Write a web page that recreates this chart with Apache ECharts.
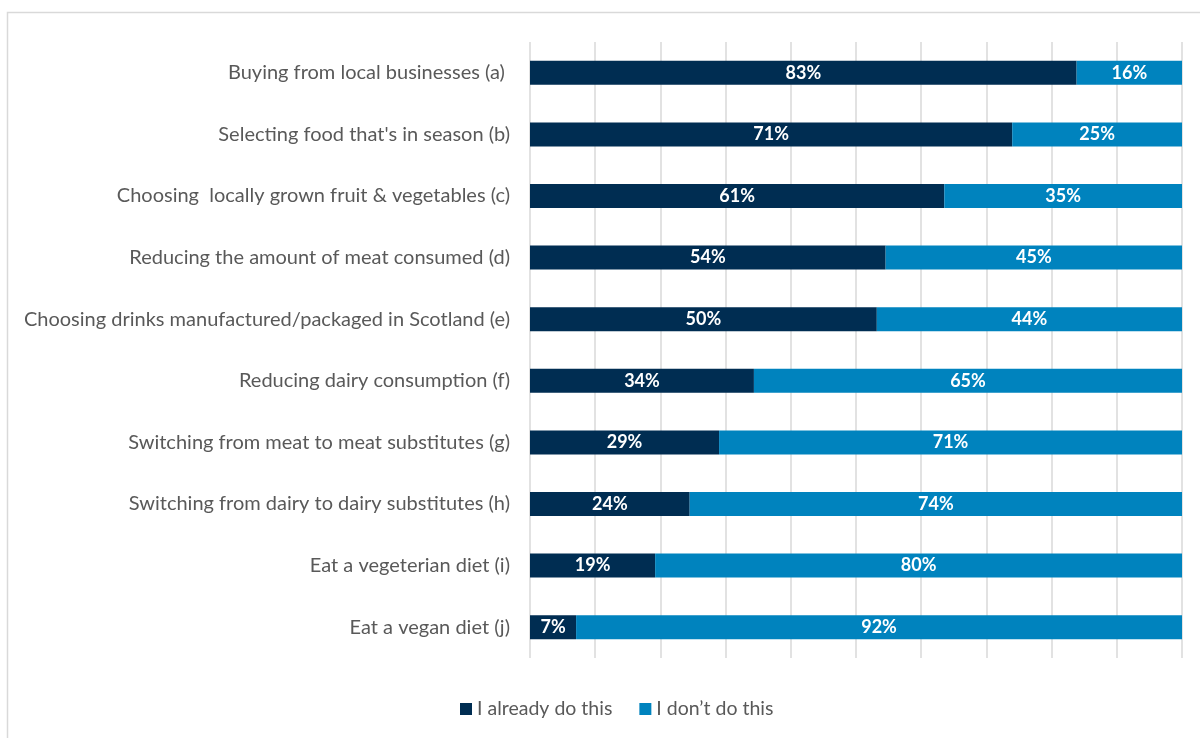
<!DOCTYPE html>
<html>
<head>
<meta charset="utf-8">
<script src="https://cdn.jsdelivr.net/npm/echarts@6/dist/echarts.min.js"></script>
<style>
  html, body { margin: 0; padding: 0; background: #ffffff; }
  #chart { width: 1200px; height: 738px; }
</style>
</head>
<body>
<div id="chart"></div>
<script>
// Food behaviour categories, top to bottom
const categories = [
  "Buying from local businesses (a) ",
  "Selecting food that's in season (b)",
  "Choosing  locally grown fruit & vegetables (c)",
  "Reducing the amount of meat consumed (d)",
  "Choosing drinks manufactured/packaged in Scotland (e)",
  "Reducing dairy consumption (f)",
  "Switching from meat to meat substitutes (g)",
  "Switching from dairy to dairy substitutes (h)",
  "Eat a vegeterian diet (i)",
  "Eat a vegan diet (j)"
];
// Reported percentages for each response
const alreadyDo = [83, 71, 61, 54, 50, 34, 29, 24, 19, 7];
const dontDo    = [16, 25, 35, 45, 44, 65, 71, 74, 80, 92];
const seriesNames = ["I already do this", "I don\u2019t do this"];

// 100% stacked: each row's segments are shown as a share of the row total,
// while the labels show the reported percentages.
function shares(values, other) {
  return values.map((v, i) => ({ value: v / (v + other[i]) * 100, raw: v }));
}

const chart = echarts.init(document.getElementById('chart'), null, { renderer: 'canvas' });
const fontFamily = 'Lato, "Open Sans", sans-serif';

const labelStyle = {
  show: true,
  position: 'inside',
  color: '#ffffff',
  fontFamily: fontFamily,
  fontWeight: 'bold',
  fontSize: 18,
  formatter: p => p.data.raw + '%'
};

chart.setOption({
  animation: false,
  backgroundColor: '#ffffff',
  graphic: [{
    type: 'rect',
    shape: { x: 7.5, y: 12.5, width: 1300, height: 900 },
    style: { fill: null, stroke: '#d9d9d9', lineWidth: 1.5 },
    silent: true,
    z: -1
  }],
  grid: { left: 530, right: 18, top: 42, bottom: 80, containLabel: false },
  legend: {
    bottom: 14,
    left: 455,
    itemWidth: 12,
    itemHeight: 12,
    itemGap: 27,
    icon: 'rect',
    textStyle: { color: '#595959', fontFamily: fontFamily, fontSize: 19.5 },
    data: seriesNames
  },
  xAxis: {
    type: 'value',
    min: 0,
    max: 100,
    interval: 10,
    axisLabel: { show: false },
    axisLine: { show: false },
    axisTick: { show: false },
    splitLine: { show: true, lineStyle: { color: '#d9d9d9', width: 1.5 } }
  },
  yAxis: {
    type: 'category',
    inverse: true,
    data: categories,
    axisLine: { show: false },
    axisTick: { show: false },
    axisLabel: { color: '#595959', fontFamily: fontFamily, fontSize: 20, margin: 20 }
  },
  series: [
    {
      name: seriesNames[0],
      type: 'bar',
      stack: 'total',
      barWidth: 24,
      itemStyle: { color: '#002D52' },
      label: labelStyle,
      data: shares(alreadyDo, dontDo)
    },
    {
      name: seriesNames[1],
      type: 'bar',
      stack: 'total',
      barWidth: 24,
      itemStyle: { color: '#0083BE' },
      label: labelStyle,
      data: shares(dontDo, alreadyDo)
    }
  ]
});
</script>
</body>
</html>
